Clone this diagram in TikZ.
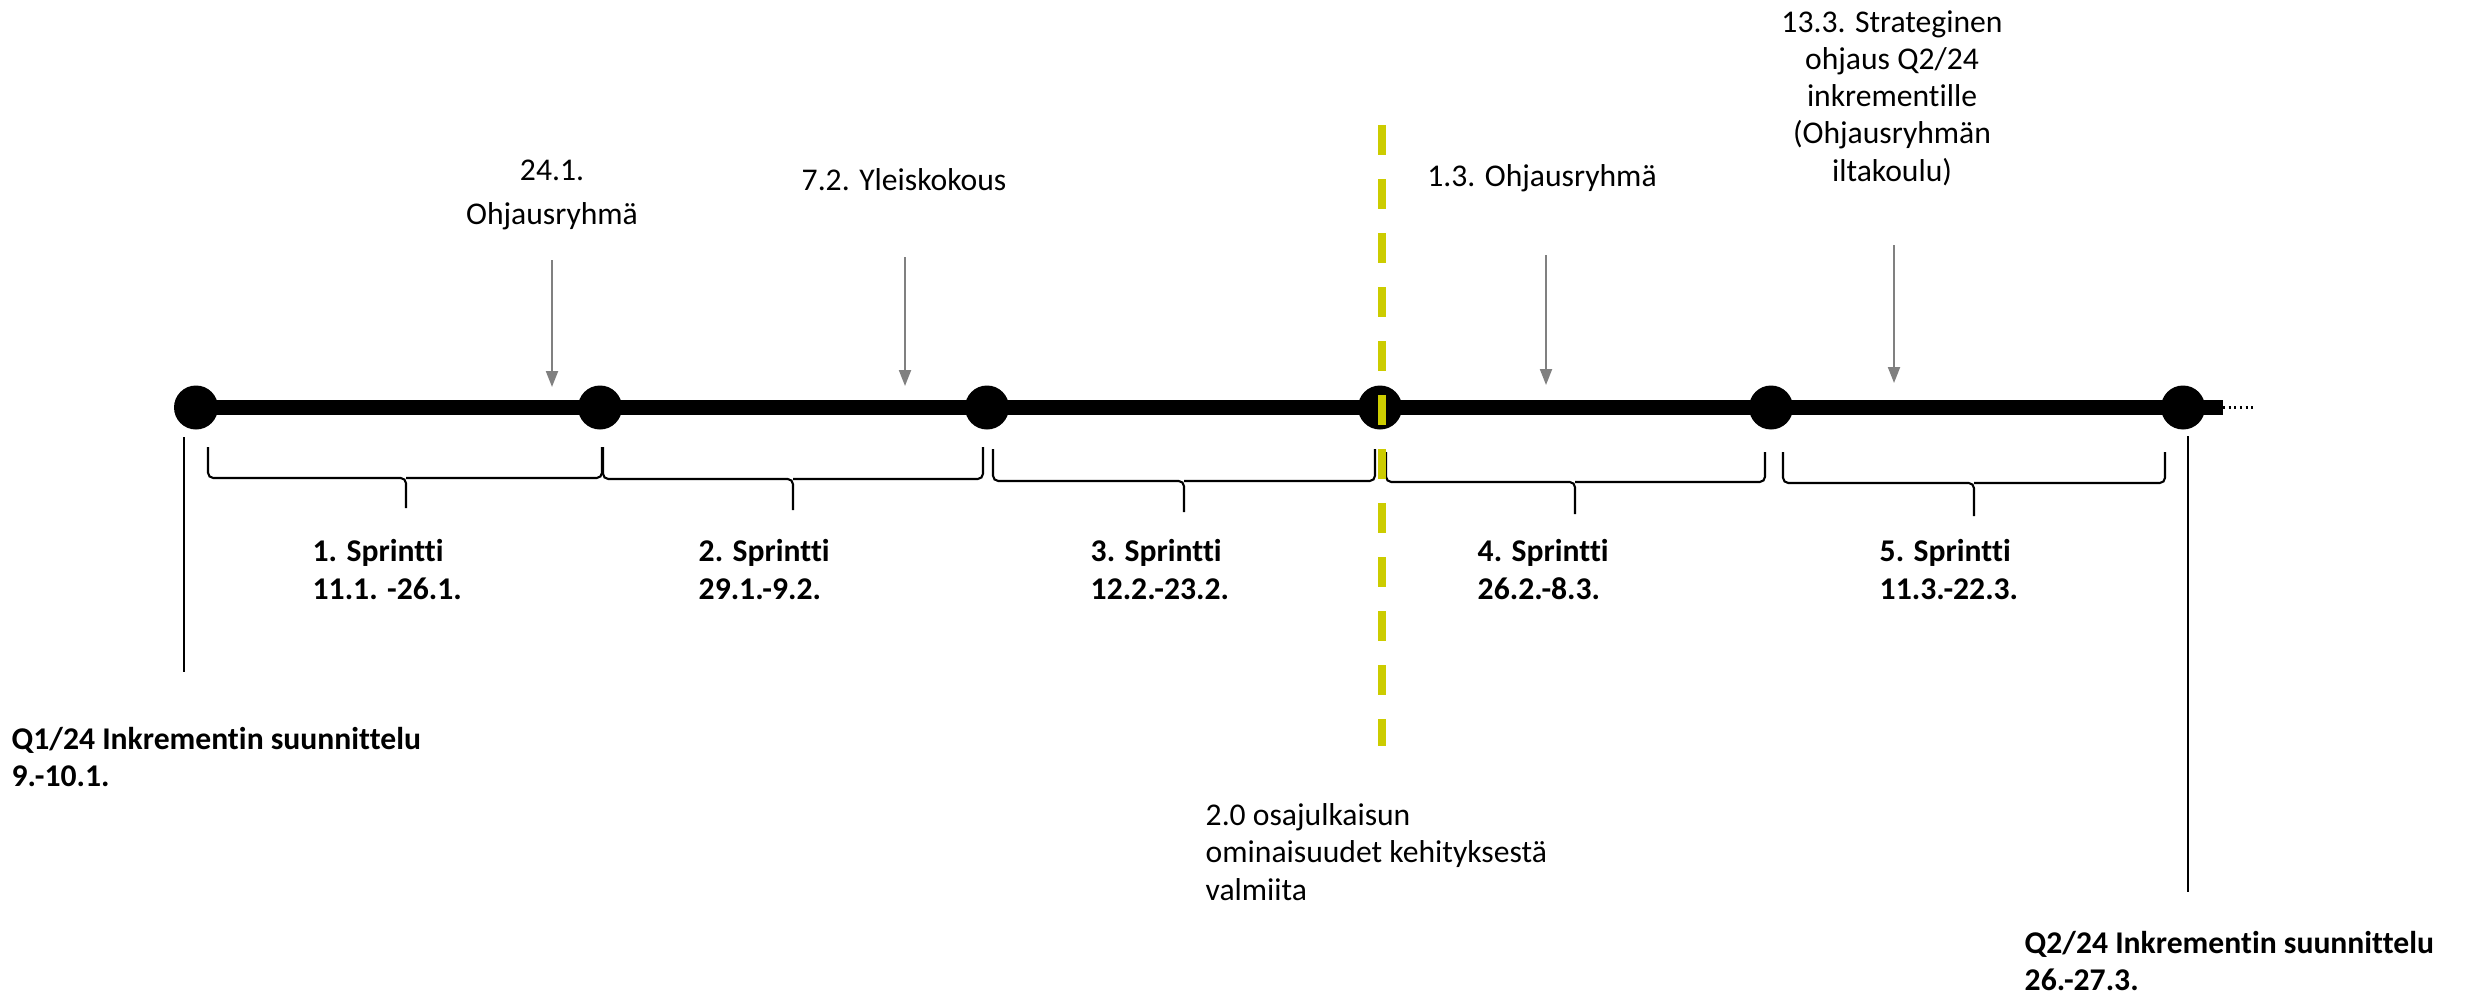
\documentclass[tikz,border=0pt]{standalone}
\usepackage{fontspec}
\setmainfont{Carlito}[Ligatures=NoCommon]
\usetikzlibrary{arrows.meta}
\definecolor{releaseyellow}{RGB}{204,204,0}

\begin{document}
\begin{tikzpicture}[
    txt/.style={font=\fontsize{9}{10.6}\selectfont, inner sep=0pt, align=center},
    sprint/.style={font=\fontsize{9}{10.6}\selectfont\bfseries, inner sep=0pt, anchor=west, align=left},
    dot/.style={circle, fill=black, minimum size=0.44cm, inner sep=0pt},
    event/.style={draw=gray, line width=0.6pt, -{Triangle[length=0.16cm, width=0.12cm]}},
    bracket/.style={line width=0.6pt, rounded corners=1.5pt},
]
    \useasboundingbox (0,0) rectangle (24.69,9.95);

    % Timeline
    \coordinate (lineend) at (22.23,5.875);
    \coordinate (more) at (22.54,5.875);
    \draw[line width=4.3pt] (1.96,5.875) -- (lineend);
    \draw[densely dotted, line width=0.6pt] (lineend) -- (more);
    \node[dot] (d1) at (1.96,5.875) {};
    \node[dot] (d2) at (6.00,5.875) {};
    \node[dot] (d3) at (9.87,5.875) {};
    \node[dot] (d4) at (13.80,5.875) {};
    \node[dot] (d5) at (17.71,5.875) {};
    \node[dot] (d6) at (21.83,5.875) {};

    % Events above the line
    \node[txt] (ev1) at (5.52,8.00) {24.1.\\[2pt]Ohjausryhmä};
    \node[txt] (ev2) at (9.04,8.15) {7.2. Yleiskokous};
    \node[txt] (ev3) at (15.42,8.17) {1.3. Ohjausryhmä};
    \node[txt] (ev4) at (18.92,8.97) {13.3. Strateginen\\ohjaus Q2/24\\inkrementille\\(Ohjausryhmän\\iltakoulu)};

    \coordinate (a1s) at (5.52,7.35);  \coordinate (a1e) at (5.52,6.08);
    \coordinate (a2s) at (9.05,7.38);  \coordinate (a2e) at (9.05,6.09);
    \coordinate (a3s) at (15.46,7.40); \coordinate (a3e) at (15.46,6.10);
    \coordinate (a4s) at (18.94,7.50); \coordinate (a4e) at (18.94,6.12);
    \draw[event] (a1s) -- (a1e);
    \draw[event] (a2s) -- (a2e);
    \draw[event] (a3s) -- (a3e);
    \draw[event] (a4s) -- (a4e);

    % Sprint brackets
    \draw[bracket] (2.08,5.48) |- (4.06,5.17) -- (4.06,4.87) (6.02,5.48) |- (4.06,5.17);
    \draw[bracket] (6.03,5.48) |- (7.93,5.16) -- (7.93,4.85) (9.83,5.48) |- (7.93,5.16);
    \draw[bracket] (9.93,5.46) |- (11.84,5.14) -- (11.84,4.83) (13.75,5.46) |- (11.84,5.14);
    \draw[bracket] (13.86,5.43) |- (15.75,5.13) -- (15.75,4.81) (17.65,5.43) |- (15.75,5.13);
    \draw[bracket] (17.83,5.43) |- (19.74,5.12) -- (19.74,4.79) (21.65,5.43) |- (19.74,5.12);

    \node[sprint] (s1) at (3.12,4.255) {1. Sprintti\\11.1. -26.1.};
    \node[sprint] (s2) at (6.98,4.255) {2. Sprintti\\29.1.-9.2.};
    \node[sprint] (s3) at (10.90,4.255) {3. Sprintti\\12.2.-23.2.};
    \node[sprint] (s4) at (14.77,4.255) {4. Sprintti\\26.2.-8.3.};
    \node[sprint] (s5) at (18.79,4.255) {5. Sprintti\\11.3.-22.3.};

    % Increment planning
    \coordinate (q1top) at (1.84,5.58);
    \coordinate (q1bot) at (1.84,3.23);
    \draw[line width=0.6pt] (q1top) -- (q1bot);
    \node[sprint] (q1) at (0.11,2.38) {Q1/24 Inkrementin suunnittelu\\9.-10.1.};

    \coordinate (q2top) at (21.88,5.59);
    \coordinate (q2bot) at (21.88,1.03);
    \draw[line width=0.6pt] (q2top) -- (q2bot);
    \node[sprint] (q2) at (20.24,0.34) {Q2/24 Inkrementin suunnittelu\\26.-27.3.};

    % Release line
    \coordinate (reltop) at (13.82,8.70);
    \coordinate (relbot) at (13.82,2.49);
    \draw[releaseyellow, line width=2.1pt, dash pattern=on 0.30cm off 0.24cm] (reltop) -- (relbot);
    \node[txt, anchor=west, align=left] (rel) at (12.05,1.43) {2.0 osajulkaisun\\ominaisuudet kehityksestä\\valmiita};

\end{tikzpicture}
\end{document}
